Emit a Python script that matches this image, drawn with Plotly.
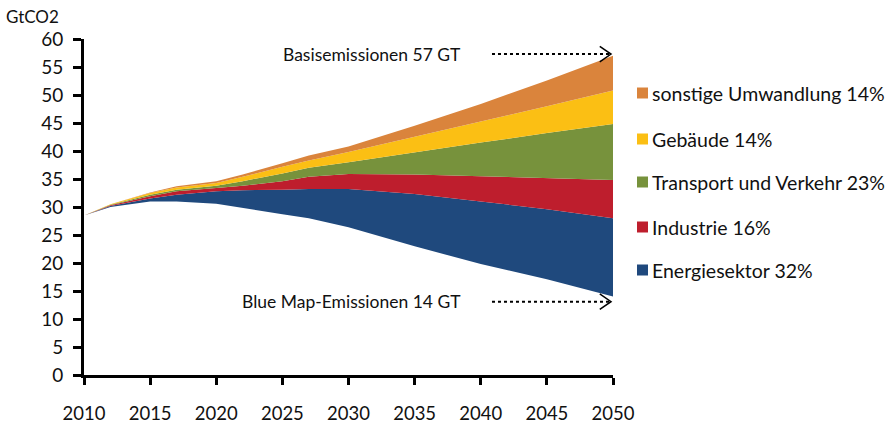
import plotly.graph_objects as go

years = [2010, 2012, 2015, 2017, 2020, 2022, 2025, 2027, 2030, 2035, 2040, 2045, 2050]
blue_map = [28.5, 30.0, 31.0, 31.0, 30.6, 29.8, 28.7, 28.0, 26.4, 23.0, 19.8, 17.1, 14.0]
energie = [0, 0.2, 0.5, 1.2, 2.2, 3.2, 4.4, 5.2, 6.8, 9.3, 11.2, 12.5, 14.0]
industrie = [0, 0.1, 0.4, 0.6, 0.6, 0.8, 1.5, 2.2, 2.7, 3.5, 4.5, 5.5, 6.8]
transport = [0, 0.1, 0.3, 0.3, 0.4, 0.8, 1.4, 1.6, 2.1, 4.0, 6.0, 8.1, 10.0]
gebaeude = [0, 0.1, 0.3, 0.4, 0.5, 0.8, 1.2, 1.3, 1.8, 2.7, 3.7, 4.8, 6.0]
sonstige = [0, 0, 0.1, 0.2, 0.3, 0.4, 0.6, 0.9, 1.0, 2.0, 3.2, 4.6, 6.2]

series_names = ["Energiesektor 32%", "Industrie 16%", "Transport und Verkehr 23%",
                "Gebäude 14%", "sonstige Umwandlung 14%"]
series_values = [energie, industrie, transport, gebaeude, sonstige]
colors = ["#1F497D", "#BE1E2D", "#77923C", "#FBBF14", "#DA843C"]

x_ticks = [2010, 2015, 2020, 2025, 2030, 2035, 2040, 2045, 2050]
y_ticks = list(range(0, 61, 5))

FONT = "Lato"

fig = go.Figure()
fig.add_trace(go.Scatter(x=years, y=blue_map, stackgroup="s", mode="lines",
                         line=dict(width=0), fillcolor="rgba(255,255,255,0)",
                         showlegend=False, hoverinfo="skip"))
for name, vals, c in zip(series_names, series_values, colors):
    fig.add_trace(go.Scatter(x=years, y=vals, stackgroup="s", mode="lines",
                             line=dict(width=0, color=c), fillcolor=c,
                             name=name, showlegend=False))

# legend as annotations (top to bottom)
leg_y = [93, 139, 182, 227, 270]
for i, (name, c) in enumerate(zip(reversed(series_names), reversed(colors))):
    yp = 1 - (leg_y[i] - 39) / (375 - 39)
    fig.add_shape(type="rect", xref="paper", yref="paper",
                  x0=(637 - 84) / 529, x1=(648 - 84) / 529,
                  y0=yp - 5.5 / 336, y1=yp + 5.5 / 336,
                  fillcolor=c, line=dict(width=0))
    fig.add_annotation(x=(650 - 84) / 529, y=yp, xref="paper", yref="paper",
                       text=name, showarrow=False, xanchor="left", yanchor="middle",
                       font=dict(family=FONT, size=19.5, color="#111"))

# annotation texts
fig.add_annotation(x=2040.85 - 2.2, y=57.3, text="Basisemissionen 57 GT", showarrow=False,
                   xanchor="right", yanchor="middle", font=dict(family=FONT, size=17.5, color="#111"))
fig.add_annotation(x=2040.85 - 2.2, y=13.1, text="Blue Map-Emissionen 14 GT", showarrow=False,
                   xanchor="right", yanchor="middle", font=dict(family=FONT, size=17.5, color="#111"))
fig.add_annotation(x=0, y=1, xref="paper", yref="paper", text="GtCO2", showarrow=False,
                   xanchor="left", yanchor="bottom", xshift=-79, yshift=11, borderpad=0,
                   font=dict(family=FONT, size=17, color="#111"))

# dotted arrows
for yv in [57.3, 13.1]:
    fig.add_shape(type="line", x0=2040.85, x1=2049.8, y0=yv, y1=yv,
                  line=dict(color="black", width=2, dash="dot"))
    fig.add_shape(type="path",
                  path=f"M 2049.0,{yv + 1.4} L 2049.85,{yv} L 2049.0,{yv - 1.4}",
                  line=dict(color="black", width=1.5))

fig.update_layout(
    width=890, height=426,
    margin=dict(l=84, r=277, t=39, b=51, autoexpand=False),
    plot_bgcolor="white", paper_bgcolor="white",
    font=dict(family=FONT, size=18, color="#111"),
    xaxis=dict(range=[2010, 2050], tickvals=x_ticks, showgrid=False, zeroline=False,
               showline=True, linecolor="black", linewidth=3, ticks="outside",
               ticklen=7, tickwidth=3, tickcolor="black", ticklabelstandoff=13,
               tickfont=dict(family=FONT, size=18.5), automargin=False),
    yaxis=dict(range=[0, 60], tickvals=y_ticks, showgrid=False, zeroline=False,
               showline=True, linecolor="black", linewidth=3, ticks="outside",
               ticklen=8, tickwidth=3, tickcolor="black", ticklabelstandoff=6,
               tickfont=dict(family=FONT, size=19), automargin=False),
    showlegend=False,
)

fig.write_html("out.html", config={"displayModeBar": False},
               post_script="document.body.style.margin='0';document.body.style.overflow='hidden';")
